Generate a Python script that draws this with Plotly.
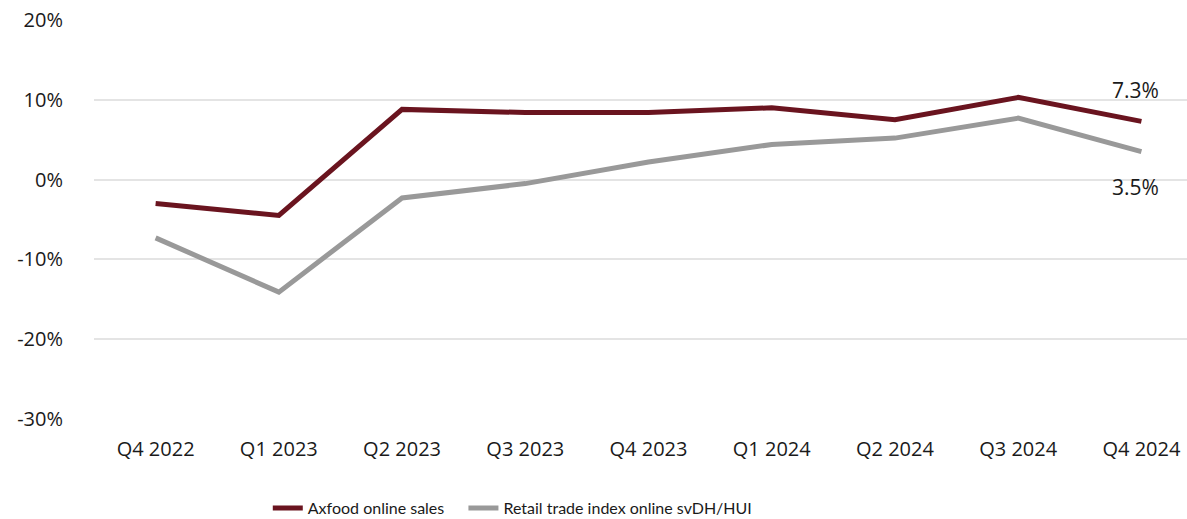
import plotly.graph_objects as go

quarters = ["Q4 2022", "Q1 2023", "Q2 2023", "Q3 2023", "Q4 2023",
            "Q1 2024", "Q2 2024", "Q3 2024", "Q4 2024"]
axfood = [-3.0, -4.5, 8.8, 8.4, 8.4, 9.0, 7.5, 10.3, 7.3]
retail = [-7.3, -14.1, -2.3, -0.5, 2.2, 4.4, 5.2, 7.7, 3.5]
y_ticks = [-30, -20, -10, 0, 10, 20]
y_tick_labels = ["-30%", "-20%", "-10%", "0%", "10%", "20%"]

FONT = "Open Sans"
LEG_FONT = "Lato"
fig = go.Figure()
fig.add_trace(go.Scatter(x=quarters, y=axfood, mode="lines", name="Axfood online sales",
                         line=dict(color="#6a141f", width=5), legend="legend"))
fig.add_trace(go.Scatter(x=quarters, y=retail, mode="lines", name="Retail trade index online svDH/HUI",
                         line=dict(color="#999999", width=5), legend="legend2"))

fig.add_annotation(x=quarters[-1], y=axfood[-1], text=f"{axfood[-1]:.1f}%", showarrow=False,
                   yshift=31, xshift=-6, font=dict(size=21, color="#1a1a1a", family=FONT))
fig.add_annotation(x=quarters[-1], y=retail[-1], text=f"{retail[-1]:.1f}%", showarrow=False,
                   yshift=-35, xshift=-6, font=dict(size=21, color="#1a1a1a", family=FONT))

leg_common = dict(orientation="h", xanchor="left", y=0.021, yref="container",
                  yanchor="middle", font=dict(size=16, family=LEG_FONT, color="#1a1a1a"),
                  itemwidth=30, bgcolor="rgba(0,0,0,0)")

fig.update_layout(
    width=1187, height=519,
    margin=dict(l=94, r=0, t=20, b=100, autoexpand=False),
    paper_bgcolor="white", plot_bgcolor="white",
    font=dict(family=FONT, size=20, color="#1a1a1a"),
    xaxis=dict(type="category", range=[-0.5, 8.37], showgrid=False, showline=False,
               zeroline=False, ticks="", ticklabelstandoff=16, automargin=False),
    yaxis=dict(range=[-30, 20], tickvals=y_ticks, ticktext=y_tick_labels,
               showgrid=True, gridcolor="#e4e4e4", gridwidth=1.5, zeroline=False,
               showline=False, ticks="", ticklabelstandoff=30, automargin=False),
    legend=dict(x=0.159, **leg_common),
    legend2=dict(x=0.338, **leg_common),
    showlegend=True,
)

fig.write_html("out.html")
